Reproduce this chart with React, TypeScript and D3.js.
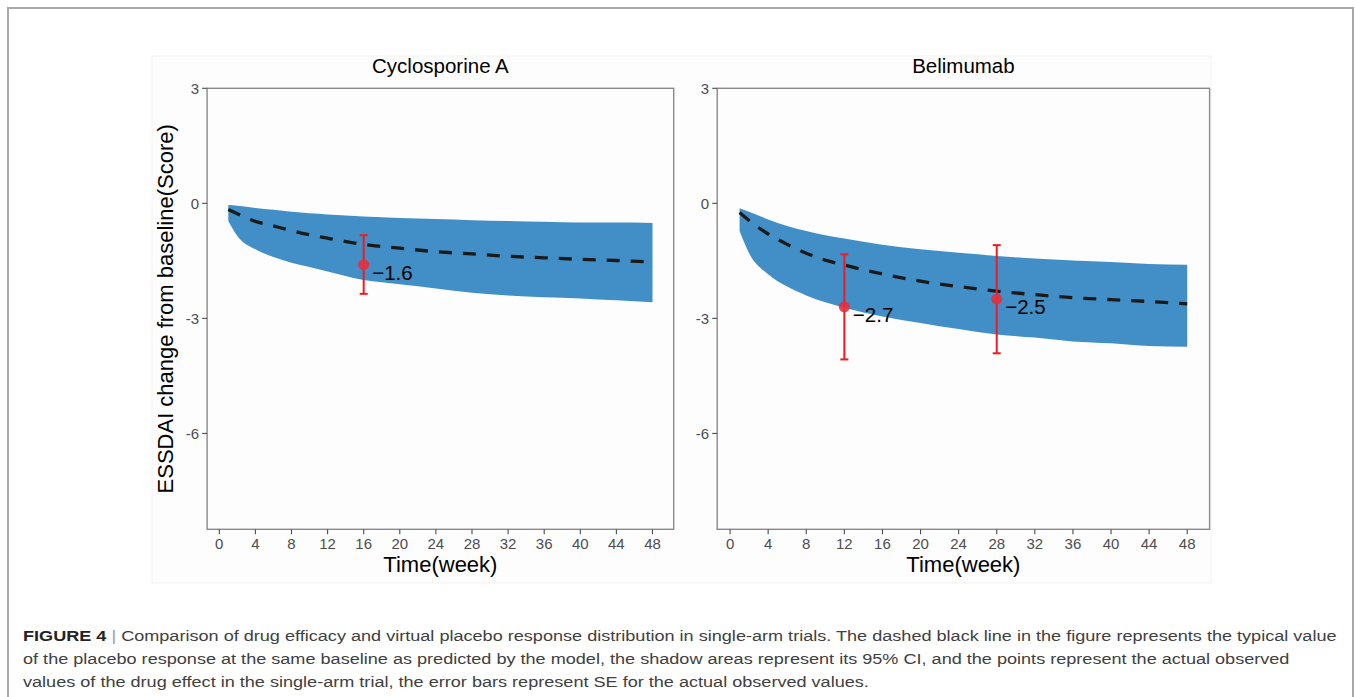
import React, { useLayoutEffect, useRef, useState } from 'react';
import * as d3 from 'd3';

// simulated placebo response (typical value + 95% CI)
const weeks = [1, 2, 4, 6, 8, 10, 12, 16, 20, 24, 28, 32, 36, 40, 44, 48];

const csaMean = [-0.16, -0.27, -0.47, -0.59, -0.71, -0.82, -0.91, -1.07, -1.17, -1.26, -1.32, -1.38, -1.42, -1.46, -1.49, -1.53];
const csaLower = [-0.46, -0.85, -1.2, -1.4, -1.55, -1.66, -1.78, -2.0, -2.11, -2.22, -2.33, -2.4, -2.45, -2.48, -2.53, -2.58];
const csaUpper = [-0.04, -0.06, -0.12, -0.17, -0.22, -0.26, -0.29, -0.34, -0.38, -0.41, -0.44, -0.46, -0.48, -0.5, -0.5, -0.51];

const belMean = [-0.24, -0.45, -0.8, -1.07, -1.3, -1.48, -1.61, -1.84, -2.03, -2.17, -2.29, -2.38, -2.46, -2.51, -2.56, -2.62];
const belLower = [-0.72, -1.3, -1.85, -2.17, -2.4, -2.58, -2.72, -2.95, -3.12, -3.28, -3.42, -3.5, -3.6, -3.65, -3.72, -3.74];
const belUpper = [-0.13, -0.22, -0.42, -0.59, -0.72, -0.83, -0.92, -1.08, -1.2, -1.29, -1.37, -1.44, -1.49, -1.53, -1.58, -1.6];

// observed drug effect with SE
const csaObsWeek = [16];
const csaObsValue = [-1.6];
const csaObsLow = [-2.36];
const csaObsHigh = [-0.83];

const belObsWeek = [12, 28];
const belObsValue = [-2.7, -2.5];
const belObsLow = [-4.07, -3.91];
const belObsHigh = [-1.33, -1.09];

const xTicks = [0, 4, 8, 12, 16, 20, 24, 28, 32, 36, 40, 44, 48];
const yTicks = [3, 0, -3, -6];

const captionLines = [
  'Comparison of drug efficacy and virtual placebo response distribution in single-arm trials. The dashed black line in the figure represents the typical value',
  'of the placebo response at the same baseline as predicted by the model, the shadow areas represent its 95% CI, and the points represent the actual observed',
  'values of the drug effect in the single-arm trial, the error bars represent SE for the actual observed values.',
];

const FONT = 'Liberation Sans, Arial, Helvetica, sans-serif';
const TOP = 88.3;
const BOTTOM = 529.3;

type Row = { w: number; m: number; lo: number; hi: number };

function Panel(props: {
  title: string;
  left: number;
  right: number;
  mean: number[];
  lower: number[];
  upper: number[];
  obsWeek: number[];
  obsValue: number[];
  obsLow: number[];
  obsHigh: number[];
  yTitle?: boolean;
}) {
  const { left, right } = props;
  const x = d3.scaleLinear().domain([1 - 47 * 0.05, 48 + 47 * 0.05]).range([left, right]);
  const y = d3.scaleLinear().domain([-8.5, 3]).range([BOTTOM, TOP]);

  const rows: Row[] = weeks.map((w, i) => ({ w, m: props.mean[i], lo: props.lower[i], hi: props.upper[i] }));

  const area = d3
    .area<Row>()
    .x(d => x(d.w))
    .y0(d => y(d.lo))
    .y1(d => y(d.hi))
    .curve(d3.curveMonotoneX);
  const line = d3
    .line<Row>()
    .x(d => x(d.w))
    .y(d => y(d.m))
    .curve(d3.curveMonotoneX);

  const axisCol = '#8a8a8a';
  const tickCol = '#4d4d4d';

  return (
    <g>
      <text x={(left + right) / 2} y={73} textAnchor="middle" fontSize={20.5} fill="#000" fontFamily={FONT}>
        {props.title}
      </text>

      <path d={area(rows) || ''} fill="#418fc6" />
      <path d={line(rows) || ''} fill="none" stroke="#1a1a1a" strokeWidth={3.3} strokeDasharray="13 11" />

      {props.obsWeek.map((w, i) => {
        const cx = x(w);
        return (
          <g key={w}>
            <line x1={cx} x2={cx} y1={y(props.obsLow[i])} y2={y(props.obsHigh[i])} stroke="#f01b22" strokeWidth={2} />
            <line x1={cx - 4} x2={cx + 4} y1={y(props.obsLow[i])} y2={y(props.obsLow[i])} stroke="#f01b22" strokeWidth={2} />
            <line x1={cx - 4} x2={cx + 4} y1={y(props.obsHigh[i])} y2={y(props.obsHigh[i])} stroke="#f01b22" strokeWidth={2} />
            <circle cx={cx} cy={y(props.obsValue[i])} r={5.5} fill="#e3303c" fillOpacity={0.9} />
            <text x={cx + 8.5} y={y(props.obsValue[i]) + 15} fontSize={20.5} fill="#000" fontFamily={FONT}>
              {'\u2212' + Math.abs(props.obsValue[i]).toFixed(1)}
            </text>
          </g>
        );
      })}

      <rect x={left} y={TOP} width={right - left} height={BOTTOM - TOP} fill="none" stroke={axisCol} strokeWidth={1.4} />

      {yTicks.map(t => (
        <g key={'y' + t}>
          <line x1={left - 5} x2={left} y1={y(t)} y2={y(t)} stroke={tickCol} strokeWidth={1.1} />
          <text x={left - 8} y={y(t)} dy="0.36em" textAnchor="end" fontSize={15} fill={tickCol} fontFamily={FONT}>
            {t < 0 ? '-' + Math.abs(t) : String(t)}
          </text>
        </g>
      ))}

      {xTicks.map(t => (
        <g key={'x' + t}>
          <line x1={x(t)} x2={x(t)} y1={BOTTOM} y2={BOTTOM + 5} stroke={tickCol} strokeWidth={1.1} />
          <text x={x(t)} y={549} textAnchor="middle" fontSize={15} fill={tickCol} fontFamily={FONT}>
            {t}
          </text>
        </g>
      ))}

      <text x={(left + right) / 2} y={572} textAnchor="middle" fontSize={22} fill="#000" fontFamily={FONT}>
        Time(week)
      </text>

      {props.yTitle && (
        <text
          transform={`translate(173,${(TOP + BOTTOM) / 2}) rotate(-90)`}
          textAnchor="middle"
          fontSize={22}
          fill="#000"
          fontFamily={FONT}
        >
          ESSDAI change from baseline(Score)
        </text>
      )}
    </g>
  );
}

export default function App() {
  const capRef = useRef<SVGTextElement>(null);
  const [capScale, setCapScale] = useState(1);

  // stretch the caption so the first line spans the frame like the original
  useLayoutEffect(() => {
    if (capRef.current) {
      const w = capRef.current.getComputedTextLength();
      if (w > 0) setCapScale(1314 / w);
    }
  }, []);

  return (
    <svg width={1355} height={697} style={{ position: 'absolute', left: 0, top: 0, background: '#fff' }}>
      <path d="M8,697 L8,8 L1353,8 L1353,697" fill="none" stroke="#a9a9a9" strokeWidth={2} />
      <rect x={152} y={56} width={1059} height={527} fill="#fdfdfd" stroke="#f3f3f3" strokeWidth={1} />

      <Panel
        title="Cyclosporine A"
        left={207.1}
        right={673.7}
        mean={csaMean}
        lower={csaLower}
        upper={csaUpper}
        obsWeek={csaObsWeek}
        obsValue={csaObsValue}
        obsLow={csaObsLow}
        obsHigh={csaObsHigh}
        yTitle
      />
      <Panel
        title="Belimumab"
        left={717.2}
        right={1209.6}
        mean={belMean}
        lower={belLower}
        upper={belUpper}
        obsWeek={belObsWeek}
        obsValue={belObsValue}
        obsLow={belObsLow}
        obsHigh={belObsHigh}
      />

      <g transform={`translate(23,0) scale(${capScale},1)`} fontFamily={FONT} fontSize={15}>
        <text ref={capRef} x={0} y={641} fill="#404040">
          <tspan fontWeight="bold" fill="#222">FIGURE 4</tspan>
          <tspan fill="#999"> | </tspan>
          <tspan>{captionLines[0]}</tspan>
        </text>
        <text x={0} y={664} fill="#404040">
          {captionLines[1]}
        </text>
        <text x={0} y={687} fill="#404040">
          {captionLines[2]}
        </text>
      </g>
    </svg>
  );
}
